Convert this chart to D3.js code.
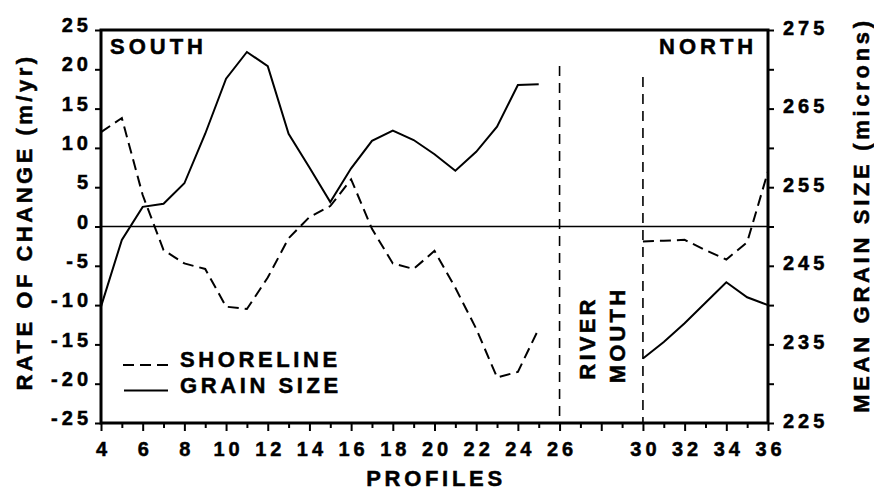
<!DOCTYPE html>
<html>
<head>
<meta charset="utf-8">
<script src="https://cdn.jsdelivr.net/npm/d3@7"></script>
<style>
  body { margin: 0; background: #fff; }
  svg text { font-family: "Liberation Sans", Arial, sans-serif; font-weight: bold; fill: #000; stroke: #000; stroke-width: 0.5px; }
</style>
</head>
<body>
<svg id="chart" width="874" height="491"></svg>
<script>
// profiles and values
var southProfiles = d3.range(4, 26);
var northProfiles = d3.range(30, 37);

var shorelineSouth = [12, 13.8, 4, -3, -4.7, -5.4, -10.2, -10.5, -6.5, -1.5, 1.2,
                      2.6, 6, -0.3, -4.7, -5.4, -3.1, -7.8, -13, -19.2, -18.5, -13];
var shorelineNorth = [-1.9, -1.8, -1.7, -3, -4.2, -2, 7];

var grainSouth = [239.8, 248.3, 252.5, 252.9, 255.5, 261.8, 268.8, 272.2, 270.4, 261.8, 257.5,
                  253.1, 257.4, 260.9, 262.2, 261, 259.2, 257.1, 259.5, 262.7, 268, 268.1];
var grainNorth = [233.2, 235.3, 237.7, 240.3, 242.9, 241, 240];

var rateTicks = d3.range(-25, 26, 5);
var grainTicks = d3.range(225, 276, 5);
var grainLabels = [225, 235, 245, 255, 265, 275];
var profileTicks = d3.range(4, 37);
var profileLabels = [4, 6, 8, 10, 12, 14, 16, 18, 20, 22, 24, 26, 30, 32, 34, 36];
var riverEdges = [26, 30];

var svg = d3.select('#chart');

var x = d3.scaleLinear().domain([4, 36]).range([101, 768]);
var yL = d3.scaleLinear().domain([-25, 25]).range([423, 30]);
var yR = d3.scaleLinear().domain([225, 275]).range([423, 30]);

// frame
svg.append('rect')
	.attr('x', x(4)).attr('y', yL(25))
	.attr('width', x(36) - x(4)).attr('height', yL(-25) - yL(25))
	.attr('fill', 'none').attr('stroke', '#000').attr('stroke-width', 3);

// zero line
svg.append('line')
	.attr('x1', x(4)).attr('x2', x(36))
	.attr('y1', yL(0)).attr('y2', yL(0))
	.attr('stroke', '#000').attr('stroke-width', 1.5);

// axes
var styleAxis = function(g) {
	g.select('.domain').remove();
	g.selectAll('.tick line').attr('stroke', '#000').attr('stroke-width', 2);
	g.selectAll('.tick text')
		.style('font-size', '20px')
		.style('letter-spacing', '4px')
		.attr('fill', '#000');
}

var bottom = svg.append('g')
	.attr('transform', `translate(0,${yL(-25)})`)
	.call(d3.axisBottom(x)
		.tickValues(profileTicks)
		.tickSize(8)
		.tickPadding(11)
		.tickFormat(d => profileLabels.indexOf(d) >= 0 ? d : ''))
	.call(styleAxis);
bottom.selectAll('.tick text').attr('dx', '2px');
bottom.selectAll('.tick line').attr('y2', d => d % 2 === 0 ? 8 : 5);

svg.append('g')
	.attr('transform', `translate(${x(4)},0)`)
	.call(d3.axisLeft(yL)
		.tickValues(rateTicks)
		.tickSize(6)
		.tickPadding(3)
		.tickFormat(d => String(d)))
	.call(styleAxis)
	.selectAll('.tick text')
	.attr('dy', '0.08em');

svg.append('g')
	.attr('transform', `translate(${x(36)},0)`)
	.call(d3.axisRight(yR)
		.tickValues(grainTicks)
		.tickSize(6)
		.tickPadding(9)
		.tickFormat(d => grainLabels.indexOf(d) >= 0 ? d : ''))
	.call(styleAxis)
	.selectAll('.tick text')
	.attr('dy', '0.2em');

// river mouth boundaries
svg.selectAll('.river')
	.data(riverEdges)
	.enter()
	.append('line')
	.attr('class', 'river')
	.attr('x1', d => x(d)).attr('x2', d => x(d))
	.attr('y1', (d, i) => i === 0 ? 66 : 77)
	.attr('y2', yL(-25))
	.attr('stroke', '#000')
	.attr('stroke-width', 1.6)
	.attr('stroke-dasharray', '10,7');

// data lines
var shoreLine = d3.line().x(d => x(d[0])).y(d => yL(d[1]));
var grainLine = d3.line().x(d => x(d[0])).y(d => yR(d[1]));

var pair = (xs, ys) => xs.map((p, i) => [p, ys[i]]);

[pair(southProfiles, shorelineSouth), pair(northProfiles, shorelineNorth)].forEach(function(pts) {
	svg.append('path')
		.attr('d', shoreLine(pts))
		.attr('fill', 'none')
		.attr('stroke', '#000')
		.attr('stroke-width', 2)
		.attr('stroke-dasharray', '11,6');
});

[pair(southProfiles, grainSouth), pair(northProfiles, grainNorth)].forEach(function(pts) {
	svg.append('path')
		.attr('d', grainLine(pts))
		.attr('fill', 'none')
		.attr('stroke', '#000')
		.attr('stroke-width', 2);
});

// labels
var label = function(txt, px, py, size, ls, anchor, rot) {
	var t = svg.append('text')
		.attr('text-anchor', anchor || 'start')
		.style('font-size', size + 'px')
		.style('letter-spacing', ls + 'px')
		.text(txt);
	if(rot) {
		t.attr('transform', `translate(${px},${py}) rotate(-90)`);
	} else {
		t.attr('x', px).attr('y', py);
	}
	return t;
}

label('SOUTH', 110, 54, 22, 4);
label('NORTH', 659, 54, 22, 4);
label('RIVER', 595, 338, 22, 3.2, 'middle', true);
label('MOUTH', 625, 335, 22, 3.2, 'middle', true);
label('PROFILES', 436, 486, 22, 3.7, 'middle');
label('RATE OF CHANGE (m/yr)', 32, 222, 22, 3.5, 'middle', true);
label('MEAN GRAIN SIZE (microns)', 869, 215, 22, 3.7, 'middle', true);

// legend
svg.append('line')
	.attr('x1', 123).attr('x2', 168).attr('y1', 365).attr('y2', 365)
	.attr('stroke', '#000').attr('stroke-width', 2).attr('stroke-dasharray', '11,6');
svg.append('line')
	.attr('x1', 124).attr('x2', 168).attr('y1', 390.5).attr('y2', 390.5)
	.attr('stroke', '#000').attr('stroke-width', 2);
label('SHORELINE', 180, 367, 22, 3.6);
label('GRAIN SIZE', 180, 393, 22, 3.6);
</script>
</body>
</html>
